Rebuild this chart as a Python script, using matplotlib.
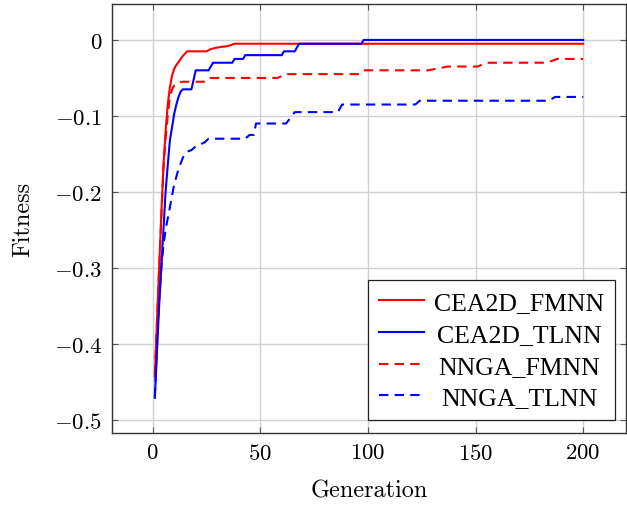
import matplotlib
matplotlib.use("Agg")
import matplotlib.pyplot as plt
from matplotlib.transforms import Affine2D

plt.rcParams['mathtext.fontset'] = 'cm'
plt.rcParams['font.family'] = ['cmr10', 'DejaVu Serif']
plt.rcParams['axes.formatter.use_mathtext'] = True

# CEA2D_FMNN (red solid)
cea_fm_gen = [1, 2, 3, 4, 5, 6, 7, 8, 9, 10, 11, 12, 13, 14, 15, 16, 25, 27, 30, 35, 38, 200]
cea_fm_fit = [-0.443, -0.37, -0.30, -0.23, -0.165, -0.12, -0.085, -0.062, -0.047, -0.038,
              -0.033, -0.029, -0.025, -0.021, -0.018, -0.015, -0.015, -0.012, -0.010, -0.008,
              -0.005, -0.005]

# CEA2D_TLNN (blue solid)
cea_tl_gen = [1, 2, 3, 4, 5, 6, 7, 8, 9, 10, 11, 12, 13, 14, 18, 20, 26, 28, 37, 38, 42, 43,
              60, 61, 66, 68, 97, 98, 200]
cea_tl_fit = [-0.471, -0.41, -0.35, -0.30, -0.25, -0.20, -0.165, -0.132, -0.115, -0.097,
              -0.085, -0.075, -0.068, -0.065, -0.065, -0.040, -0.040, -0.030, -0.030, -0.025,
              -0.025, -0.020, -0.020, -0.015, -0.015, -0.005, -0.005, 0.0, 0.0]

# NNGA_FMNN (red dashed)
nn_fm_gen = [1, 2, 3, 4, 5, 6, 7, 8, 9, 10, 12, 14, 24, 26, 58, 62, 96, 98, 128, 137, 151,
             155, 183, 188, 200]
nn_fm_fit = [-0.44, -0.37, -0.30, -0.235, -0.17, -0.13, -0.10, -0.075, -0.065, -0.060,
             -0.056, -0.055, -0.055, -0.050, -0.050, -0.045, -0.045, -0.040, -0.040, -0.035,
             -0.035, -0.030, -0.030, -0.025, -0.025]

# NNGA_TLNN (blue dashed)
nn_tl_gen = [1, 2, 3, 4, 5, 6, 7, 8, 9, 10, 12, 14, 16, 18, 20, 24, 26, 43, 45, 47, 48, 62,
             66, 86, 88, 122, 124, 184, 187, 200]
nn_tl_fit = [-0.47, -0.40, -0.34, -0.30, -0.27, -0.25, -0.235, -0.22, -0.205, -0.19, -0.17,
             -0.155, -0.147, -0.145, -0.140, -0.135, -0.130, -0.130, -0.125, -0.125, -0.110,
             -0.110, -0.095, -0.095, -0.085, -0.085, -0.080, -0.080, -0.075, -0.075]

labels = ['CEA2D_FMNN', 'CEA2D_TLNN', 'NNGA_FMNN', 'NNGA_TLNN']
x_ticks = [0, 50, 100, 150, 200]
y_ticks = [0, -0.1, -0.2, -0.3, -0.4, -0.5]

fig = plt.figure(figsize=(6.27, 5.10), dpi=100)
ax = fig.add_axes([112/627, 1 - 434/510, (626 - 112)/627, (434 - 5)/510])

lw = 1.5
ax.plot(cea_fm_gen, cea_fm_fit, color='#ff0000', lw=lw, label=labels[0], zorder=4)
ax.plot(cea_tl_gen, cea_tl_fit, color='#0000ff', lw=lw, label=labels[1], zorder=5)
ax.plot(nn_fm_gen, nn_fm_fit, color='#ff0000', lw=lw, dashes=(4.5, 3), label=labels[2], zorder=3)
ax.plot(nn_tl_gen, nn_tl_fit, color='#0000ff', lw=lw, dashes=(4.5, 3), label=labels[3], zorder=3)

ax.set_xlim(-18.9, 219.9)
ax.set_ylim(-0.5173, 0.0473)
ax.set_xticks(x_ticks)
ax.set_yticks(y_ticks)
ax.set_yticklabels([r'$0$'] + [r'$-%s$' % str(-v) for v in y_ticks[1:]])
ax.set_xticklabels([r'$%d$' % v for v in x_ticks])

ax.grid(True, color='#d0d0d0', lw=1.0)
ax.set_axisbelow(True)
ax.tick_params(direction='in', top=True, right=True, length=4, width=0.8,
               colors='#555555', labelcolor='black', labelsize=16.5, pad=7)
for s in ax.spines.values():
    s.set_color('#333333')
    s.set_linewidth(1.0)

ax.set_xlabel('Generation', fontsize=17.5, labelpad=12)
ax.set_ylabel('Fitness', fontsize=17.5, labelpad=14)

leg = ax.legend(loc='lower right', bbox_to_anchor=(0.979, 0.030), frameon=True, fancybox=False,
                edgecolor='#222222', framealpha=1, handlelength=1.75, handletextpad=0.4,
                labelspacing=0.34, borderpad=0.42, borderaxespad=0,
                prop={'family': 'Liberation Serif', 'size': 18.5})
leg.get_frame().set_linewidth(0.9)

# center legend texts within the text column (as pgfplots does)
fig.canvas.draw()
renderer = fig.canvas.get_renderer()
texts = leg.get_texts()
widths = [t.get_window_extent(renderer).width for t in texts]
wmax = max(widths)
for t, w in zip(texts, widths):
    t.set_transform(t.get_transform() + Affine2D().translate((wmax - w) / 2, 0))

fig.savefig('out.png', dpi=100)
